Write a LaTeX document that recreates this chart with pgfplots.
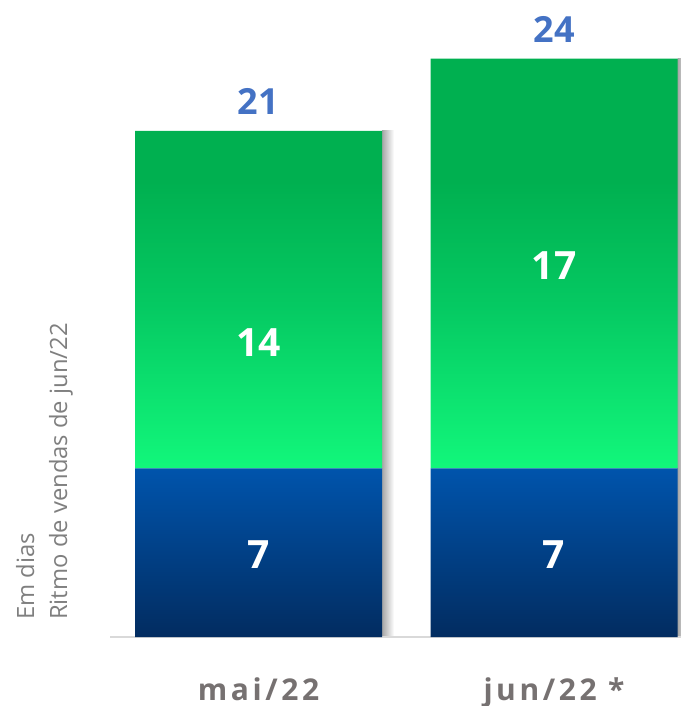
\documentclass[border=0pt]{standalone}
\usepackage{pgfplots}
\pgfplotsset{compat=1.18}
\usepackage{fontspec}
\setmainfont{Open Sans}
\definecolor{gtop}{HTML}{00B050}
\definecolor{gmid}{HTML}{05C962}
\definecolor{gbot}{HTML}{12F77B}
\definecolor{btop}{HTML}{0054AC}
\definecolor{bbot}{HTML}{022C60}
\definecolor{totblue}{HTML}{4472C4}
\definecolor{xlab}{HTML}{767171}
\definecolor{ylab}{HTML}{7F7F7F}
\definecolor{base}{HTML}{D9D9D9}
\pgfdeclareverticalshading{greenbar}{100bp}{color(0bp)=(gbot); color(25bp)=(gbot); color(45bp)=(gmid); color(60bp)=(gtop); color(75bp)=(gtop); color(100bp)=(gtop)}
\pgfdeclareverticalshading{bluebar}{100bp}{color(0bp)=(bbot); color(25bp)=(bbot); color(75bp)=(btop); color(100bp)=(btop)}
\pgfdeclarehorizontalshading{shadowbar}{100bp}{color(0bp)=(black!35); color(25bp)=(black!35); color(75bp)=(white); color(100bp)=(white)}

\pgfplotstableread{
x tot
0 21
}\totA
\pgfplotstableread{
x tot
1 24
}\totB
\pgfplotstableread{
x low
0 7
1 7
}\lowtable
\pgfplotstableread{
x high
0 14
1 17
}\hightable

\pgfplotsset{common/.style={
  scale only axis, width=571bp, height=637bp,
  xmin=-0.50254, xmax=1.42978, ymin=0, ymax=26.432,
  clip=false,
}}

\begin{document}
\begin{tikzpicture}
\useasboundingbox (-110bp,-69bp) rectangle (571bp,637bp);
% shadow axis
\begin{axis}[common, hide axis]
\addplot[ybar, bar width=12bp, bar shift=129.5bp, draw=none,
  shading=shadowbar] table[x=x,y=tot] {\totA};
\addplot[ybar, bar width=12bp, bar shift=129.5bp, draw=none,
  shading=shadowbar] table[x=x,y=tot] {\totB};
\end{axis}
% main axis
\begin{axis}[common,
  ybar stacked, bar width=247bp,
  axis x line*=bottom, axis y line=none,
  x axis line style={draw=base, line width=1.5bp, -},
  xtick={0,1}, xticklabels={mai/22, jun/22 *},
  major tick length=0pt, ytick=\empty,
  xticklabel style={anchor=base, yshift=-63bp, inner sep=0pt,
    font=\fontsize{30bp}{34bp}\selectfont\bfseries\addfontfeature{LetterSpace=12}, text=xlab},
]
\addplot[draw=none, shading=bluebar] table[x=x,y=low] {\lowtable};
\addplot[draw=none, shading=greenbar] table[x=x,y=high] {\hightable};
\end{axis}
% labels axis
\begin{axis}[common, hide axis]
\node[text=white, font=\fontsize{39bp}{44bp}\selectfont\bfseries] at (axis cs:0,3.4) {7};
\node[text=white, font=\fontsize{39bp}{44bp}\selectfont\bfseries] at (axis cs:1,3.4) {7};
\node[text=white, font=\fontsize{39bp}{44bp}\selectfont\bfseries] at (axis cs:0,12.2) {14};
\node[text=white, font=\fontsize{39bp}{44bp}\selectfont\bfseries] at (axis cs:1,15.4) {17};
\node[text=totblue, anchor=base, inner sep=0pt, yshift=16bp, font=\fontsize{36bp}{40bp}\selectfont\bfseries] at (axis cs:0,21) {21};
\node[text=totblue, anchor=base, inner sep=0pt, yshift=16bp, font=\fontsize{36bp}{40bp}\selectfont\bfseries] at (axis cs:1,24) {24};
\node[xshift=-37bp, yshift=17bp, rotate=90, anchor=south west, align=left, inner sep=0pt, text=ylab,
  font=\fontsize{23.8bp}{33bp}\selectfont]
  at (rel axis cs:0,0) {Em dias\\Ritmo de vendas de jun/22};
\end{axis}
\end{tikzpicture}
\end{document}
